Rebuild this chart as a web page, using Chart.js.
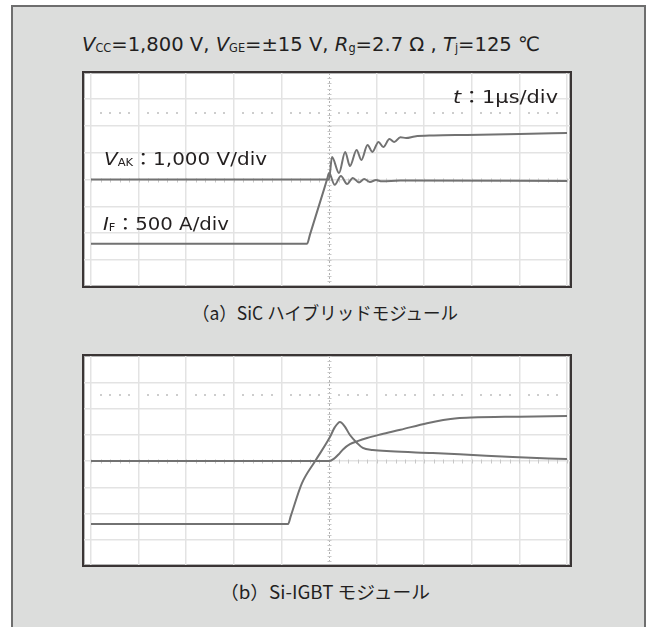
<!DOCTYPE html>
<html>
<head>
<meta charset="utf-8">
<script src="https://cdn.jsdelivr.net/npm/chart.js@4/dist/chart.umd.min.js"></script>
<style>
  html, body { margin: 0; padding: 0; background: #ffffff; }
  body { width: 653px; height: 627px; position: relative; overflow: hidden;
         font-family: "DejaVu Sans", "Noto Sans CJK JP", sans-serif; color: #231f1f; }
  #panel { position: absolute; left: 11px; top: 5px; width: 635px; height: 640px;
           background: #dcdddc; border: 2px solid #6e6e6e; box-sizing: border-box; }
  .frame { position: absolute; background: #ffffff; border: 2px solid #3a3535;
           box-sizing: border-box; box-shadow: inset 0 0 0 1px #b5b5b5; }
  .frame canvas { position: absolute; left: 0; top: 0; }
  .txt { position: absolute; white-space: nowrap; }
  .txt i { font-style: italic; }
  .txt sub { font-size: 58%; vertical-align: baseline; position: relative; top: 0.12em; font-style: normal; }
  .colon { font-family: "Noto Sans CJK JP", sans-serif; }
  .cap { position: absolute; white-space: nowrap;
         font-family: "Noto Sans CJK JP", sans-serif; font-size: 18px; }
  .fit { transform-origin: left center; }
</style>
</head>
<body>
<div id="panel"></div>

<div class="txt fit" data-w="458" style="left:82px; top:33px; font-size:20px; line-height:22px;"><i>V</i><sub>CC</sub>=1,800 V, <i>V</i><sub>GE</sub>=±15 V, <i>R</i><sub>g</sub>=2.7 Ω , <i>T</i><sub>j</sub>=125 ℃</div>

<div class="frame" style="left:82px; top:71px; width:490px; height:217px;">
  <canvas id="sic" width="486" height="213"></canvas>
</div>
<div class="frame" style="left:82px; top:354px; width:490px; height:213px;">
  <canvas id="igbt" width="486" height="209"></canvas>
</div>

<div class="txt fit" data-w="105" data-right="558" style="top:86px; font-size:17px; line-height:20px;"><i>t</i><span class="colon">：</span>1µs/div</div>
<div class="txt fit" data-w="163" style="left:104px; top:148px; font-size:17px; line-height:20px;"><i>V</i><sub>AK</sub><span class="colon">：</span>1,000 V/div</div>
<div class="txt fit" data-w="126" style="left:103px; top:213px; font-size:17px; line-height:20px;"><i>I</i><sub>F</sub><span class="colon">：</span>500 A/div</div>

<div class="cap fit" data-w="266" data-center="325" style="top:300px; line-height:24px;">（a）SiC ハイブリッドモジュール</div>
<div class="cap fit" data-w="210" data-center="325" style="top:579px; line-height:24px;">（b）Si-IGBT モジュール</div>

<script>
// Time base in µs (1 µs/div), voltage in V (1,000 V/div), current in A (500 A/div)
const divTicks = [-5, -4, -3, -2, -1, 0, 1, 2, 3, 4, 5];
const voltTicks = [-3000, -2000, -1000, 0, 1000, 2000, 3000];

// (a) SiC hybrid module
const sicVakTime  = [-5, 0, 0.063, 0.21, 0.34, 0.44, 0.58, 0.68, 0.81, 0.91, 1.04, 1.14, 1.27, 1.37, 1.5, 1.62, 1.8, 2.2, 2.9, 4.0, 5.0];
const sicVakValue = [0, 0, 840, 240, 1030, 500, 1100, 730, 1290, 1030, 1400, 1210, 1510, 1400, 1580, 1550, 1610, 1645, 1665, 1700, 1735];
const sicIfTime   = [-5, -0.46, -0.4, -0.1, -0.03, 0, 0.12, 0.25, 0.38, 0.5, 0.63, 0.74, 0.86, 0.99, 1.11, 1.5, 5];
const sicIfValue  = [-1200, -1200, -1030, -170, 35, 120, -100, 65, -85, 30, -55, 10, -45, -10, -35, -20, -28];

// (b) Si-IGBT module
const igbtVakTime  = [-5, 0, 0.1, 0.2, 0.3, 0.44, 0.6, 0.8, 1.1, 1.5, 2.06, 2.4, 2.69, 3.0, 4, 5];
const igbtVakValue = [0, 0, 80, 250, 450, 640, 760, 880, 1020, 1190, 1440, 1560, 1630, 1660, 1690, 1714];
const igbtIfTime   = [-5, -0.86, -0.8, -0.57, -0.29, 0.02, 0.12, 0.23, 0.33, 0.44, 0.59, 0.71, 0.92, 1.3, 2.18, 3.02, 3.86, 5];
const igbtIfValue  = [-1200, -1200, -1040, -425, 0, 457, 640, 745, 660, 495, 343, 250, 210, 185, 152, 114, 76, 38];

const traceColor = '#727272';
const gridColor = '#e3e3e3';

function pts(xs, ys) { return xs.map((x, i) => ({ x: x, y: ys[i] })); }

// Stretch each label horizontally so it spans its set width
function fitLabels() {
  document.querySelectorAll('.fit').forEach(el => {
    el.style.transform = 'none';
    const w0 = el.getBoundingClientRect().width;
    const target = parseFloat(el.dataset.w);
    el.style.transform = 'scaleX(' + (target / w0).toFixed(4) + ')';
    if (el.dataset.right) el.style.left = (parseFloat(el.dataset.right) - target) + 'px';
    if (el.dataset.center) el.style.left = (parseFloat(el.dataset.center) - target / 2) + 'px';
  });
}
fitLabels();
if (document.fonts && document.fonts.ready) document.fonts.ready.then(fitLabels);

// Oscilloscope centre graticule: dotted centre line, minor ticks, dotted reference row
const scopeMarks = {
  id: 'scopeMarks',
  beforeDatasetsDraw(chart, args, opts) {
    const { ctx, chartArea, scales } = chart;
    const x = scales.x, v = scales.v;
    const x0 = Math.round(x.getPixelForValue(0)) + 0.5;
    const y0 = Math.round(v.getPixelForValue(0)) + 0.5;
    ctx.save();
    ctx.strokeStyle = '#b0b0b0';
    ctx.lineWidth = 1;
    ctx.setLineDash([2, 2]);
    ctx.beginPath();
    ctx.moveTo(x0, chartArea.top);
    ctx.lineTo(x0, chartArea.bottom);
    ctx.stroke();
    ctx.setLineDash([]);
    ctx.strokeStyle = '#c8c8c8';
    ctx.beginPath();
    for (let k = -25; k <= 25; k++) {
      const px = Math.round(x.getPixelForValue(k / 5)) + 0.5;
      ctx.moveTo(px, y0 - 2); ctx.lineTo(px, y0 + 2);
    }
    for (let k = -20; k <= 20; k++) {
      const py = Math.round(v.getPixelForValue(k * 200)) + 0.5;
      ctx.moveTo(x0 - 2, py); ctx.lineTo(x0 + 2, py);
    }
    ctx.stroke();
    ctx.fillStyle = '#cdcdcd';
    const yd = Math.round(v.getPixelForValue(opts.dotRow));
    for (let k = -25; k <= 25; k++) {
      if (k % 5 === 0) continue;
      const px = Math.round(x.getPixelForValue(k / 5));
      ctx.fillRect(px - 1, yd - 1, 2, 2);
    }
    ctx.restore();
  }
};

function makeScope(id, vakT, vakV, ifT, ifV, xMin, xMax, vMin, vMax) {
  const line = { borderColor: traceColor, borderWidth: 2, pointRadius: 0,
                 cubicInterpolationMode: 'monotone', fill: false };
  return new Chart(document.getElementById(id), {
    type: 'line',
    data: {
      datasets: [
        Object.assign({ label: 'VAK', data: pts(vakT, vakV), yAxisID: 'v' }, line),
        Object.assign({ label: 'IF', data: pts(ifT, ifV), yAxisID: 'i' }, line)
      ]
    },
    options: {
      responsive: false,
      animation: false,
      devicePixelRatio: 1,
      events: [],
      layout: { padding: 0 },
      plugins: { legend: { display: false }, tooltip: { enabled: false },
                 scopeMarks: { dotRow: 2500 } },
      scales: {
        x: {
          type: 'linear', min: xMin, max: xMax,
          afterBuildTicks: s => { s.ticks = divTicks.map(value => ({ value })); },
          ticks: { display: false },
          border: { display: false },
          grid: { drawTicks: false, lineWidth: 1.5,
                  color: c => (c.tick && c.tick.value === 0) ? 'rgba(0,0,0,0)' : gridColor }
        },
        v: {
          type: 'linear', position: 'left', min: vMin, max: vMax,
          afterBuildTicks: s => { s.ticks = voltTicks.map(value => ({ value })); },
          ticks: { display: false },
          border: { display: false },
          grid: { drawTicks: false, lineWidth: 1.5, color: gridColor }
        },
        i: { type: 'linear', display: false, min: vMin / 2, max: vMax / 2 }
      }
    },
    plugins: [scopeMarks]
  });
}

makeScope('sic', sicVakTime, sicVakValue, sicIfTime, sicIfValue, -5.147, 5.063, -3980, 3980);
makeScope('igbt', igbtVakTime, igbtVakValue, igbtIfTime, igbtIfValue, -5.147, 5.063, -3960, 4000);
</script>
</body>
</html>
